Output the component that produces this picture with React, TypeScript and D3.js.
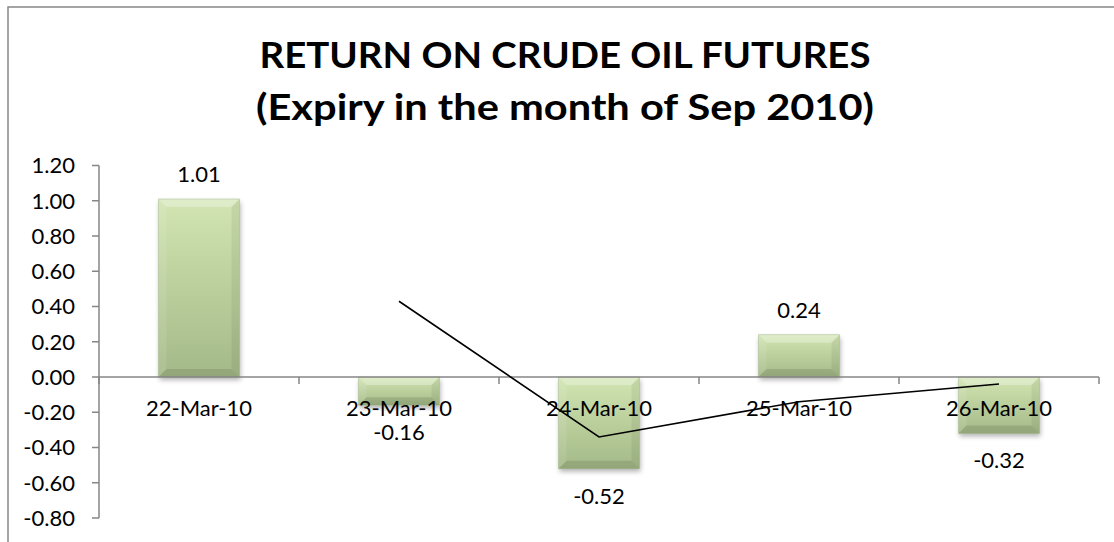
import React from "react";
import * as d3 from "d3";

const categories = ["22-Mar-10", "23-Mar-10", "24-Mar-10", "25-Mar-10", "26-Mar-10"];
const returns = [1.01, -0.16, -0.52, 0.24, -0.32];
const trendCategories = ["23-Mar-10", "24-Mar-10", "25-Mar-10", "26-Mar-10"];
const trendValues = [0.43, -0.34, -0.14, -0.04];
const yTicks = [1.2, 1.0, 0.8, 0.6, 0.4, 0.2, 0.0, -0.2, -0.4, -0.6, -0.8];
const titleLines = ["RETURN ON CRUDE OIL FUTURES", "(Expiry in the month of Sep 2010)"];

const W = 1114;
const H = 542;
const FONT = "Lato, 'Open Sans', sans-serif";
const AXIS = "#868686";

export default function App() {
  const x = d3.scaleBand<string>().domain(categories).range([99, 1099]).padding(0);
  const y = d3.scaleLinear().domain([-0.8, 1.2]).range([518, 165.5]);
  const barW = x.bandwidth() * 0.405;
  const cx = (c: string) => (x(c) as number) + x.bandwidth() / 2;

  const line = d3
    .line<number>()
    .x((_, i) => cx(trendCategories[i]))
    .y((d) => y(d));

  const boundaries = d3.range(categories.length + 1).map((i) => 99 + i * x.step());

  return (
    <div style={{ position: "absolute", left: 0, top: 0 }}>
      <svg width={W} height={H} style={{ display: "block", background: "#fff" }}>
        <defs>
          <linearGradient id="barGrad" x1="0" y1="0" x2="0" y2="1">
            <stop offset="0%" stopColor="#d2e5b2" />
            <stop offset="100%" stopColor="#a3b987" />
          </linearGradient>
          <filter id="shadow" x="-20%" y="-20%" width="140%" height="140%">
            <feGaussianBlur in="SourceAlpha" stdDeviation="2.5" />
            <feOffset dx="1" dy="3" result="ob" />
            <feComponentTransfer>
              <feFuncA type="linear" slope="0.3" />
            </feComponentTransfer>
            <feMerge>
              <feMergeNode />
              <feMergeNode in="SourceGraphic" />
            </feMerge>
          </filter>
        </defs>

        {/* chart area border */}
        <rect x={8} y={7} width={W + 20} height={H + 20} fill="#fff" stroke={AXIS} strokeWidth={1.5} />

        {/* title */}
        {titleLines.map((t, i) => (
          <text
            key={t}
            x={565}
            y={68 + i * 52}
            textAnchor="middle"
            fontFamily={FONT}
            fontWeight={700}
            fontSize={37}
            fill="#000"
            textLength={i === 0 ? 611 : 618}
            lengthAdjust="spacingAndGlyphs"
          >
            {t}
          </text>
        ))}

        {/* y axis */}
        <line x1={99} x2={99} y1={y(1.2)} y2={y(-0.8)} stroke={AXIS} strokeWidth={1.5} />
        {yTicks.map((t) => (
          <g key={t}>
            <line x1={92} x2={99} y1={y(t)} y2={y(t)} stroke={AXIS} strokeWidth={1.5} />
            <text
              x={75}
              y={y(t)}
              dy="0.36em"
              textAnchor="end"
              fontFamily={FONT}
              fontSize={22}
              fill="#000"
            >
              {d3.format(".2f")(t).replace("−", "-")}
            </text>
          </g>
        ))}

        {/* bars */}
        {categories.map((c, i) => {
          const v = returns[i];
          const bx = cx(c) - barW / 2;
          const by = Math.min(y(v), y(0));
          const bh = Math.abs(y(v) - y(0));
          const b = Math.min(8, bh / 2, barW / 2);
          const r = bx + barW;
          const bot = by + bh;
          return (
            <g key={c}>
              <rect x={bx} y={by} width={barW} height={bh} fill="url(#barGrad)" filter="url(#shadow)" />
              <polygon
                points={`${bx},${by} ${r},${by} ${r - b},${by + b} ${bx + b},${by + b}`}
                fill="#ffffff"
                fillOpacity={0.3}
              />
              <polygon
                points={`${bx},${by} ${bx + b},${by + b} ${bx + b},${bot - b} ${bx},${bot}`}
                fill="#ffffff"
                fillOpacity={0.1}
              />
              <polygon
                points={`${r},${by} ${r},${bot} ${r - b},${bot - b} ${r - b},${by + b}`}
                fill="#000000"
                fillOpacity={0.06}
              />
              <polygon
                points={`${bx},${bot} ${bx + b},${bot - b} ${r - b},${bot - b} ${r},${bot}`}
                fill="#000000"
                fillOpacity={0.1}
              />
              <rect x={bx} y={by} width={barW} height={bh} fill="none" stroke="#8fa474" strokeOpacity={0.45} strokeWidth={0.8} />
            </g>
          );
        })}

        {/* x axis */}
        <line x1={99} x2={1099} y1={y(0)} y2={y(0)} stroke={AXIS} strokeWidth={1.5} />
        {boundaries.map((bx) => (
          <line key={bx} x1={bx} x2={bx} y1={y(0)} y2={y(0) + 7} stroke={AXIS} strokeWidth={1.5} />
        ))}
        {categories.map((c) => (
          <text
            key={c}
            x={cx(c)}
            y={416}
            textAnchor="middle"
            fontFamily={FONT}
            fontSize={22}
            fill="#000"
          >
            {c}
          </text>
        ))}

        {/* data labels */}
        {categories.map((c, i) => {
          const v = returns[i];
          const ly = v >= 0 ? y(v) - 16.5 : y(v) + 35;
          return (
            <text
              key={c}
              x={cx(c)}
              y={ly}
              textAnchor="middle"
              fontFamily={FONT}
              fontSize={22}
              fill="#000"
            >
              {d3.format(".2f")(v).replace("−", "-")}
            </text>
          );
        })}

        {/* trend line */}
        <path d={line(trendValues) || ""} fill="none" stroke="#000" strokeWidth={1.6} />
      </svg>
    </div>
  );
}
